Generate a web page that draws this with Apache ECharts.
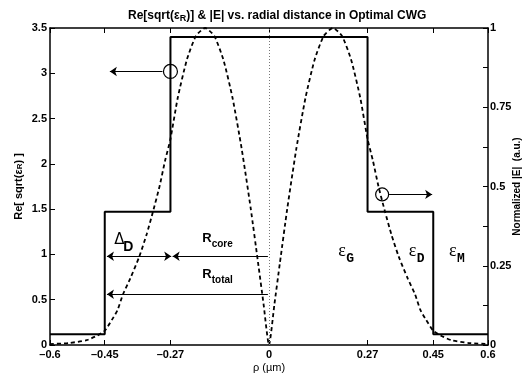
<!DOCTYPE html>
<html>
<head>
<meta charset="utf-8">
<script src="https://cdn.jsdelivr.net/npm/echarts@6/dist/echarts.min.js"></script>
<style>
  html, body { margin: 0; padding: 0; background: #fff; }
  #chart { width: 526px; height: 377px; }
</style>
</head>
<body>
<div id="chart"></div>
<script>
// Refractive-index profile (step) of the cladded waveguide
const stepRho   = [-0.6, -0.45, -0.45, -0.27, -0.27, 0.27, 0.27, 0.45, 0.45, 0.6];
const stepIndex = [0.12, 0.12, 1.47, 1.47, 3.4, 3.4, 1.47, 1.47, 0.12, 0.12];

// Normalized field magnitude |E| across the guide
const fieldRho = [-0.6, -0.55, -0.5, -0.47, -0.45, -0.43, -0.415, -0.4, -0.38, -0.355, -0.335, -0.318, -0.3, -0.285, -0.27,
                  -0.25, -0.225, -0.2, -0.175, -0.15, -0.125, -0.1, -0.075, -0.05, -0.03, -0.015, 0,
                  0.015, 0.03, 0.05, 0.075, 0.1, 0.125, 0.15, 0.175, 0.2, 0.225, 0.25,
                  0.27, 0.285, 0.3, 0.318, 0.335, 0.355, 0.38, 0.4, 0.415, 0.43, 0.45, 0.47, 0.5, 0.55, 0.6];
const fieldE   = [0.003, 0.006, 0.015, 0.03, 0.045, 0.08, 0.11, 0.16, 0.21, 0.28, 0.35, 0.42, 0.5, 0.58, 0.65,
                  0.78, 0.9, 0.975, 1.0, 0.975, 0.9, 0.78, 0.62, 0.43, 0.26, 0.13, 0,
                  0.13, 0.26, 0.43, 0.62, 0.78, 0.9, 0.975, 1.0, 0.975, 0.9, 0.78,
                  0.65, 0.58, 0.5, 0.42, 0.35, 0.28, 0.21, 0.16, 0.11, 0.08, 0.045, 0.03, 0.015, 0.006, 0.003];

// Tick positions
const rhoTicks   = [-0.6, -0.45, -0.27, 0, 0.27, 0.45, 0.6];
const fieldTicks = [0, 0.25, 0.5, 0.75, 1];

const stepData  = stepRho.map((x, i) => [x, stepIndex[i]]);
const fieldData = fieldRho.map((x, i) => [x, fieldE[i]]);

const FONT = '"Liberation Sans", Arial, Helvetica, sans-serif';
const black = '#000';

function fmtRho(v) {
  if (v === 0) return '0';
  return (v < 0 ? '\u2013' : '') + Math.abs(v);
}

const chart = echarts.init(document.getElementById('chart'), null, { renderer: 'canvas' });

const tickCommon = { show: true, inside: true, length: 5, lineStyle: { color: black, width: 1 } };
const axisLineCommon = { show: true, onZero: false, lineStyle: { color: black, width: 1.5 } };
const labelCommon = { color: black, fontFamily: FONT, fontWeight: 'bold', fontSize: 11 };

const arrowLine = { color: black, width: 1.2, type: 'solid' };

const option = {
  animation: false,
  backgroundColor: '#fff',
  title: {
    text: 'Re[sqrt(\u03b5{sub|R})] & |E| vs. radial distance in Optimal CWG',
    left: 123, top: 3,
    textStyle: {
      color: black, fontFamily: FONT, fontWeight: 'bold', fontSize: 12,
      rich: { sub: { fontFamily: FONT, fontWeight: 'bold', fontSize: 9, color: black, padding: [6, 0, 0, 0] } }
    }
  },
  grid: { left: 50, right: 38, top: 28, bottom: 32, containLabel: false, outerBoundsMode: 'none' },
  xAxis: [
    {
      type: 'value', position: 'bottom', min: -0.6, max: 0.6,
      axisLine: axisLineCommon,
      axisTick: Object.assign({}, tickCommon, { customValues: rhoTicks }),
      axisLabel: Object.assign({}, labelCommon, { customValues: rhoTicks, formatter: fmtRho, margin: 4 }),
      splitLine: { show: false },
      name: '\u03c1 (\u00b5m)', nameLocation: 'middle', nameGap: 17, nameMoveOverlap: false,
      nameTextStyle: { color: black, fontFamily: FONT, fontSize: 11 }
    },
    {
      type: 'value', position: 'top', min: -0.6, max: 0.6,
      axisLine: axisLineCommon,
      axisTick: Object.assign({}, tickCommon, { customValues: rhoTicks }),
      axisLabel: { show: false },
      splitLine: { show: false }
    }
  ],
  yAxis: [
    {
      type: 'value', position: 'left', min: 0, max: 3.5, interval: 0.5,
      axisLine: axisLineCommon,
      axisTick: tickCommon,
      axisLabel: Object.assign({}, labelCommon, { margin: 3 }),
      splitLine: { show: false },
      name: 'Re[ sqrt(\u03b5{sub|R}) ]', nameLocation: 'middle', nameGap: 26, nameRotate: 90, nameMoveOverlap: false,
      nameTextStyle: {
        color: black, fontFamily: FONT, fontWeight: 'bold', fontSize: 11,
        rich: { sub: { fontFamily: FONT, fontWeight: 'bold', fontSize: 8, color: black, verticalAlign: 'bottom' } }
      }
    },
    {
      type: 'value', position: 'right', min: 0, max: 1, interval: 0.125,
      axisLine: axisLineCommon,
      axisTick: tickCommon,
      axisLabel: Object.assign({}, labelCommon, { customValues: fieldTicks, margin: 2 }),
      splitLine: { show: false },
      name: 'Normalized |E|  (a.u.)', nameLocation: 'middle', nameGap: 24, nameRotate: 90, nameMoveOverlap: false,
      nameTextStyle: { color: black, fontFamily: FONT, fontWeight: 'bold', fontSize: 10 }
    }
  ],
  series: [
    {
      name: 'index', type: 'line', xAxisIndex: 0, yAxisIndex: 0,
      data: stepData, showSymbol: false, symbol: 'none',
      lineStyle: { color: black, width: 2 }, z: 3,
      markLine: {
        silent: true, symbolSize: 7, label: { show: false },
        data: [
          [{ coord: [0, 0], symbol: 'none', lineStyle: { color: '#777', width: 1, type: [1, 2] } },
           { coord: [0, 3.5], symbol: 'none' }],
          [{ coord: [-0.292, 3.02], symbol: 'none', lineStyle: arrowLine }, { coord: [-0.436, 3.02], symbol: 'arrow' }],
          [{ coord: [-0.444, 0.98], symbol: 'arrow', lineStyle: arrowLine }, { coord: [-0.268, 0.98], symbol: 'arrow' }],
          [{ coord: [-0.264, 0.98], symbol: 'arrow', lineStyle: arrowLine }, { coord: [-0.003, 0.98], symbol: 'none' }],
          [{ coord: [-0.003, 0.56], symbol: 'none', lineStyle: arrowLine }, { coord: [-0.444, 0.56], symbol: 'arrow' }]
        ]
      },
      markPoint: {
        silent: true, symbol: 'circle', symbolSize: 14,
        itemStyle: { color: 'rgba(0,0,0,0)', borderColor: black, borderWidth: 1.2 },
        label: { show: false },
        data: [{ coord: [-0.27, 3.02] }]
      }
    },
    {
      name: 'field', type: 'line', xAxisIndex: 0, yAxisIndex: 1,
      data: fieldData, showSymbol: false, symbol: 'none', smooth: 0.2,
      lineStyle: { color: black, width: 1.8, type: [4, 3] }, z: 2,
      markLine: {
        silent: true, symbolSize: 7, label: { show: false },
        data: [
          [{ coord: [0.329, 0.475], symbol: 'none', lineStyle: arrowLine }, { coord: [0.447, 0.475], symbol: 'arrow' }]
        ]
      },
      markPoint: {
        silent: true, symbol: 'circle', symbolSize: 13,
        itemStyle: { color: 'rgba(0,0,0,0)', borderColor: black, borderWidth: 1.2 },
        label: { show: false },
        data: [{ coord: [0.31, 0.475] }]
      }
    }
  ]
};

chart.setOption(option);

// Region labels, anchored in data coordinates (rho, index)
const regionLabels = [
  { main: '\u0394', sub: 'D', at: [-0.424, 1.16], mainWeight: 'normal', subFont: FONT, mainFont: '"DejaVu Sans", sans-serif', mainSize: 15, subSize: 14, dx: 9, dy: 7 },
  { main: 'R', sub: 'core', at: [-0.183, 1.18], mainWeight: 'bold', subFont: FONT, mainFont: FONT, mainSize: 13, subSize: 10, dx: 9.5, dy: 6 },
  { main: 'R', sub: 'total', at: [-0.183, 0.78], mainWeight: 'bold', subFont: FONT, mainFont: FONT, mainSize: 13, subSize: 10, dx: 9.5, dy: 6 },
  { main: '\u03b5', sub: 'G', at: [0.19, 1.03], mainWeight: 'normal', subFont: '"Liberation Mono", monospace', mainFont: '"Liberation Serif", serif', mainSize: 18, subSize: 13, dx: 8, dy: 7 },
  { main: '\u03b5', sub: 'D', at: [0.383, 1.03], mainWeight: 'normal', subFont: '"Liberation Mono", monospace', mainFont: '"Liberation Serif", serif', mainSize: 18, subSize: 13, dx: 8, dy: 7 },
  { main: '\u03b5', sub: 'M', at: [0.493, 1.03], mainWeight: 'normal', subFont: '"Liberation Mono", monospace', mainFont: '"Liberation Serif", serif', mainSize: 18, subSize: 13, dx: 8, dy: 7 }
];

const graphics = [];
regionLabels.forEach(l => {
  const p = chart.convertToPixel({ xAxisIndex: 0, yAxisIndex: 0 }, l.at);
  graphics.push({
    type: 'text', x: p[0], y: p[1], silent: true,
    style: {
      text: l.main, fill: black, font: l.mainWeight + ' ' + l.mainSize + 'px ' + l.mainFont,
      textAlign: 'left', textVerticalAlign: 'middle'
    }
  });
  graphics.push({
    type: 'text', x: p[0] + l.dx, y: p[1] + l.dy, silent: true,
    style: {
      text: l.sub, fill: black, font: 'bold ' + l.subSize + 'px ' + l.subFont,
      textAlign: 'left', textVerticalAlign: 'middle'
    }
  });
});
chart.setOption({ graphic: graphics });
</script>
</body>
</html>
